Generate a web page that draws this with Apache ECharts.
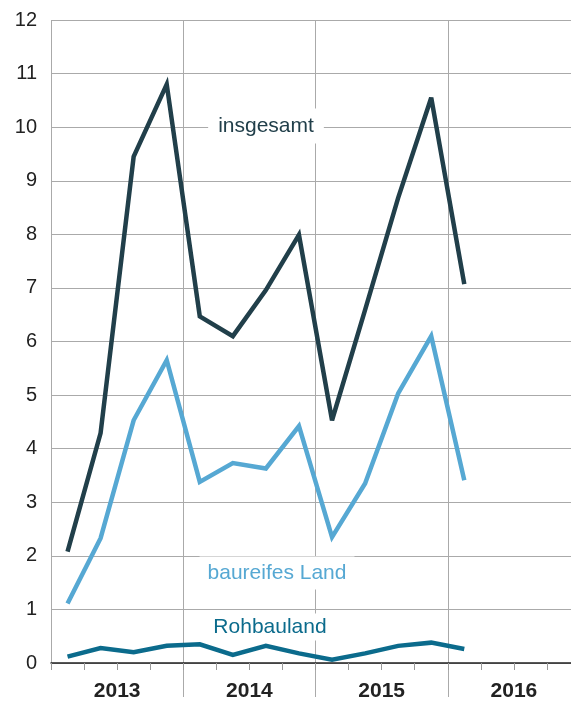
<!DOCTYPE html>
<html>
<head>
<meta charset="utf-8">
<script src="https://cdn.jsdelivr.net/npm/echarts@6/dist/echarts.min.js"></script>
<style>
html,body{margin:0;padding:0;background:#fff;overflow:hidden;width:571px;height:702px;}
#chart{width:580px;height:702px;}
</style>
</head>
<body>
<div id="chart"></div>
<script>
var quarters = ['2013 Q1','2013 Q2','2013 Q3','2013 Q4','2014 Q1','2014 Q2','2014 Q3','2014 Q4','2015 Q1','2015 Q2','2015 Q3','2015 Q4','2016 Q1','2016 Q2','2016 Q3','2016 Q4'];
var years = ['2013','2014','2015','2016'];
var insgesamt = [2.08, 4.29, 9.45, 10.8, 6.47, 6.1, 6.96, 7.99, 4.53, 6.59, 8.68, 10.55, 7.07];
var baureifesLand = [1.11, 2.33, 4.53, 5.65, 3.38, 3.73, 3.63, 4.42, 2.35, 3.35, 5.03, 6.1, 3.41];
var rohbauland = [0.12, 0.28, 0.2, 0.32, 0.35, 0.15, 0.32, 0.18, 0.06, 0.18, 0.32, 0.38, 0.26];
var yTicks = [0, 12, 1];

var FONT = '"Liberation Sans", Arial, Helvetica, sans-serif';
var chart = echarts.init(document.getElementById('chart'), null, {renderer: 'canvas'});

function lineSeries(name, data, color) {
  return {
    name: name,
    type: 'line',
    xAxisIndex: 0,
    data: data,
    showSymbol: false,
    symbol: 'none',
    animation: false,
    lineStyle: {color: color, width: 4.5, join: 'miter', miterLimit: 4, cap: 'butt'},
    z: 5
  };
}

chart.setOption({
  animation: false,
  backgroundColor: '#fff',
  grid: {left: 51, top: 20, right: 0, height: 643, containLabel: false},
  xAxis: [
    {
      type: 'category',
      data: quarters,
      boundaryGap: true,
      position: 'bottom',
      axisLine: {show: true, lineStyle: {color: '#222', width: 1.5}},
      axisTick: {show: true, interval: 0, length: 7, lineStyle: {color: '#999', width: 1}},
      axisLabel: {show: false},
      splitLine: {show: true, interval: 3, lineStyle: {color: '#aaa', width: 1}},
      z: 3
    },
    {
      type: 'category',
      data: years,
      boundaryGap: true,
      position: 'bottom',
      axisLine: {show: false},
      axisTick: {show: true, interval: function (i) { return i > 0; }, length: 34, lineStyle: {color: '#aaa', width: 1}},
      axisLabel: {show: true, interval: 0, margin: 18, color: '#222', fontSize: 21, fontWeight: 'bold', fontFamily: FONT},
      splitLine: {show: false}
    }
  ],
  yAxis: {
    type: 'value',
    min: yTicks[0],
    max: yTicks[1],
    interval: yTicks[2],
    axisLine: {show: false},
    axisTick: {show: false},
    axisLabel: {margin: 14, color: '#222', fontSize: 20, fontFamily: FONT},
    splitLine: {show: true, lineStyle: {color: '#aaa', width: 1}}
  },
  series: [
    lineSeries('insgesamt', insgesamt, '#213f4a'),
    lineSeries('baureifes Land', baureifesLand, '#56a8d3'),
    lineSeries('Rohbauland', rohbauland, '#0b6b8c')
  ],
  graphic: [
    {type: 'text', z: 10, style: {text: 'insgesamt', x: 266, y: 126, align: 'center', verticalAlign: 'middle', fill: '#213f4a', font: '21px ' + FONT, backgroundColor: '#fff', padding: [7, 10]}},
    {type: 'text', z: 10, style: {text: 'baureifes Land', x: 277, y: 573, align: 'center', verticalAlign: 'middle', fill: '#56a8d3', font: '21px ' + FONT, backgroundColor: '#fff', padding: [6, 8]}},
    {type: 'text', z: 10, style: {text: 'Rohbauland', x: 270, y: 627, align: 'center', verticalAlign: 'middle', fill: '#0b6b8c', font: '21px ' + FONT, backgroundColor: '#fff', padding: [3, 8]}}
  ]
});
</script>
</body>
</html>
